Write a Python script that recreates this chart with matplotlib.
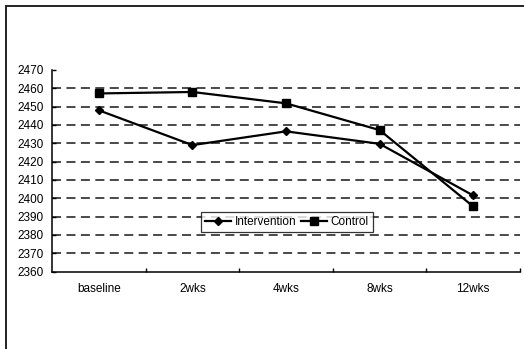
import matplotlib
matplotlib.use("Agg")
import matplotlib.pyplot as plt
from matplotlib.patches import Rectangle

# Time points and measured means per group
timepoints = ["baseline", "2wks", "4wks", "8wks", "12wks"]
intervention = [2448, 2429, 2436.5, 2429.7, 2401.5]
control = [2457.2, 2458, 2451.8, 2437.2, 2395.5]
y_ticks = list(range(2360, 2471, 10))

plt.rcParams["font.family"] = ["Liberation Sans", "DejaVu Sans"]
FS = 8.5

fig = plt.figure(figsize=(5.24, 3.49), dpi=100)
ax = fig.add_axes([52 / 524, 1 - 271.5 / 349, 468 / 524, 201.5 / 349])

x = list(range(len(timepoints)))
ax.plot(x, intervention, color="black", lw=1.6, marker="D", ms=4.5,
        markerfacecolor="black", label="Intervention")
ax.plot(x, control, color="black", lw=1.6, marker="s", ms=5.5,
        markerfacecolor="black", label="Control")

ax.set_xlim(-0.5, len(timepoints) - 0.5)
ax.set_ylim(2360, 2470)
ax.set_yticks(y_ticks)
ax.set_yticklabels([str(v) for v in y_ticks])
ax.set_xticks(x)
ax.set_xticklabels(timepoints)
ax.set_xticks([i + 0.5 for i in x], minor=True)

# dashed horizontal gridlines at the interior major ticks
for v in y_ticks[1:-1]:
    ax.axhline(v, color="#3a3a3a", lw=1.3, ls=(0, (5, 3)), zorder=0)

for side in ("top", "right"):
    ax.spines[side].set_visible(False)
for side in ("left", "bottom"):
    ax.spines[side].set_linewidth(1.1)
    ax.spines[side].set_color("black")

ax.tick_params(axis="y", direction="in", length=3, width=1, pad=6,
               labelsize=FS)
ax.tick_params(axis="x", which="major", length=0, pad=8, labelsize=FS)
ax.tick_params(axis="x", which="minor", direction="in", length=3, width=1)

leg = ax.legend(loc="center", bbox_to_anchor=(287 / 524, 1 - 222 / 349),
                bbox_transform=fig.transFigure, ncol=2, fontsize=FS,
                frameon=True, fancybox=False, handlelength=2.2,
                handletextpad=0.3, columnspacing=0.4, borderpad=0.35,
                borderaxespad=0)
leg.get_frame().set_edgecolor("black")
leg.get_frame().set_linewidth(0.9)

# outer chart-area frame
fig.patches.append(Rectangle((5.5 / 524, -0.1), 1.2, 1 - 5.5 / 349 + 0.1,
                             transform=fig.transFigure, fill=False,
                             edgecolor="#222222", lw=1.4))

fig.savefig("out.png", dpi=100)
